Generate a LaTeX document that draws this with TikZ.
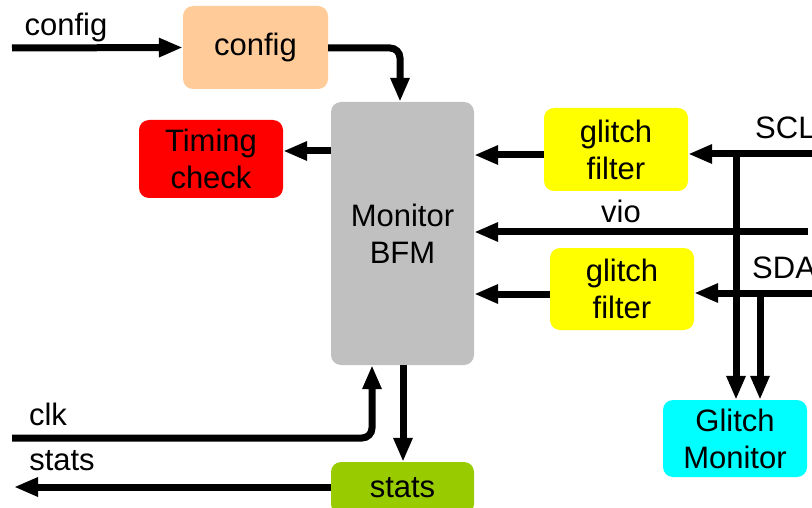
\documentclass[tikz,border=0pt]{standalone}
\usepackage{fontspec}
\setmainfont{Liberation Sans}
\usetikzlibrary{arrows.meta}
\definecolor{cpeach}{HTML}{FFCC99}
\definecolor{cgray}{HTML}{C0C0C0}
\definecolor{cgreen}{HTML}{99CC00}
\definecolor{ccyan}{HTML}{00FFFF}
\definecolor{cyell}{HTML}{FFFF00}
\definecolor{cred}{HTML}{FF0000}
\begin{document}
\begin{tikzpicture}[x=1pt,y=-1pt,
  blk/.style={rounded corners=10pt, draw=none, align=center, inner sep=0pt,
    font=\fontsize{31}{37}\selectfont},
  lbl/.style={inner sep=0pt, font=\fontsize{31}{37}\selectfont},
  wire/.style={line width=7pt},
  arr/.style={wire, -{Triangle[length=24pt,width=18pt]}}]
\clip (0,0) rectangle (812,508);
\fill[white] (0,0) rectangle (812,508);
% blocks
\node[blk, fill=cpeach, minimum width=145pt, minimum height=83pt] (cfg) at (255.5,47.5) {config};
\node[blk, fill=cgray, minimum width=143pt, minimum height=263pt] (mon) at (402.5,233.5) {Monitor\\BFM};
\node[blk, fill=cred, minimum width=144pt, minimum height=78pt] (tim) at (211,159) {Timing\\check};
\node[blk, fill=cyell, minimum width=144pt, minimum height=83pt] (gf1) at (616,149.5) {glitch\\filter};
\node[blk, fill=cyell, minimum width=144pt, minimum height=82pt] (gf2) at (622,289) {glitch\\filter};
\node[blk, fill=ccyan, minimum width=144pt, minimum height=77pt] (gm) at (735,438.5) {Glitch\\Monitor};
\node[blk, fill=cgreen, minimum width=143pt, minimum height=52pt] (st) at (402.5,488) {stats};
% free ends
\coordinate (cfgin) at (12,48);
\coordinate (sclin) at (812,154);
\coordinate (vioin) at (808,232);
\coordinate (sdain) at (812,293);
\coordinate (clkin) at (12,438);
\coordinate (statout) at (14,487);
\coordinate (scltap) at (736,154);
\coordinate (sdatap) at (760,293);
% labels
\node[lbl] (lcfg) at (66,27) {config};
\node[lbl, anchor=west] (lscl) at (755,128) {SCL};
\node[lbl] (lvio) at (621,211) {vio};
\node[lbl, anchor=west] (lsda) at (752,268) {SDA};
\node[lbl] (lclk) at (48,414) {clk};
\node[lbl] (lstat) at (62,461) {stats};
% connectors
\draw[arr] (cfgin) -- (cfg.west);
\draw[arr, rounded corners=10pt] (cfg.east |- 0,48) -- (400,48) -- (mon.north -| 400,0);
\draw[arr] (mon.west |- 0,151) -- (tim.east |- 0,151);
\draw[arr] (sclin) -- (gf1.east |- sclin);
\draw[arr] (gf1.west |- 0,155) -- (mon.east |- 0,155);
\draw[arr] (vioin) -- (mon.east |- vioin);
\draw[arr] (sdain) -- (gf2.east |- sdain);
\draw[arr] (gf2.west |- 0,294) -- (mon.east |- 0,294);
\draw[arr] (scltap) -- (gm.north -| scltap);
\draw[arr] (sdatap) -- (gm.north -| sdatap);
\draw[arr, rounded corners=10pt] (clkin) -- (372,438) -- (mon.south -| 372,0);
\draw[arr] (mon.south -| 403,0) -- (st.north -| 403,0);
\draw[arr] (st.west |- statout) -- (statout);
\end{tikzpicture}
\end{document}
